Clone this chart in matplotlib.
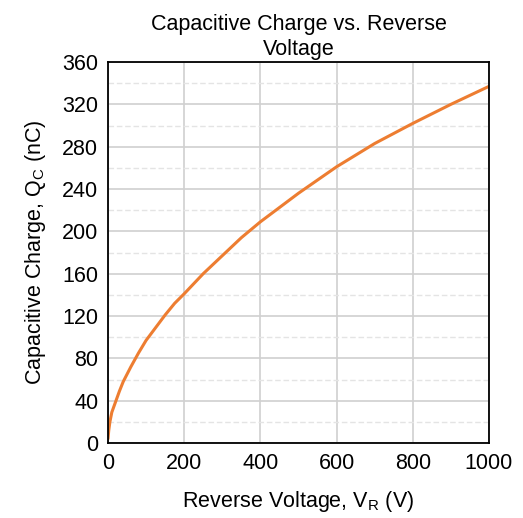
import numpy as np
import matplotlib.pyplot as plt
from matplotlib.ticker import MultipleLocator

plt.rcParams['font.family'] = ['Liberation Sans', 'DejaVu Sans']

# reverse voltage (V) and capacitive charge (nC)
v_r = [0, 2, 5, 10, 20, 30, 40, 60, 80, 100, 125, 150, 175, 200, 250, 300, 350, 400,
       500, 600, 700, 800, 900, 1000]
q_c = [4, 12, 20, 29, 39, 49, 58, 72, 85, 97, 109, 121, 132, 141, 160, 177, 194, 209,
       236, 261, 283, 302, 320, 337]

fig = plt.figure(figsize=(5.23, 5.18), dpi=100)
ax = fig.add_axes([108/523, 1 - 443/518, 381/523, 381/518])

ax.plot(v_r, q_c, color='#ed7d31', lw=2.2, solid_capstyle='round')

ax.set_xlim(0, 1000)
ax.set_ylim(0, 360)
ax.xaxis.set_major_locator(MultipleLocator(200))
ax.yaxis.set_major_locator(MultipleLocator(40))
ax.yaxis.set_minor_locator(MultipleLocator(20))
ax.grid(which='major', color='#d0d0d0', lw=1.2)
ax.grid(which='minor', axis='y', color='#e4e4e4', lw=1.0, ls=(0, (4, 2)))
ax.set_axisbelow(True)
ax.tick_params(which='both', length=0, labelsize=15.5, pad=7)
for s in ax.spines.values():
    s.set_linewidth(1.3)
    s.set_color('black')

ax.set_title('Capacitive Charge vs. Reverse\nVoltage', fontsize=15.5, pad=5, linespacing=1.25)
ax.set_xlabel('Reverse Voltage, V$_\\mathregular{R}$ (V)', fontsize=15.5, labelpad=11)
ax.set_ylabel('Capacitive Charge, Q$_\\mathregular{C}$ (nC)', fontsize=15.5, labelpad=10)

fig.savefig('out.png', dpi=100)
